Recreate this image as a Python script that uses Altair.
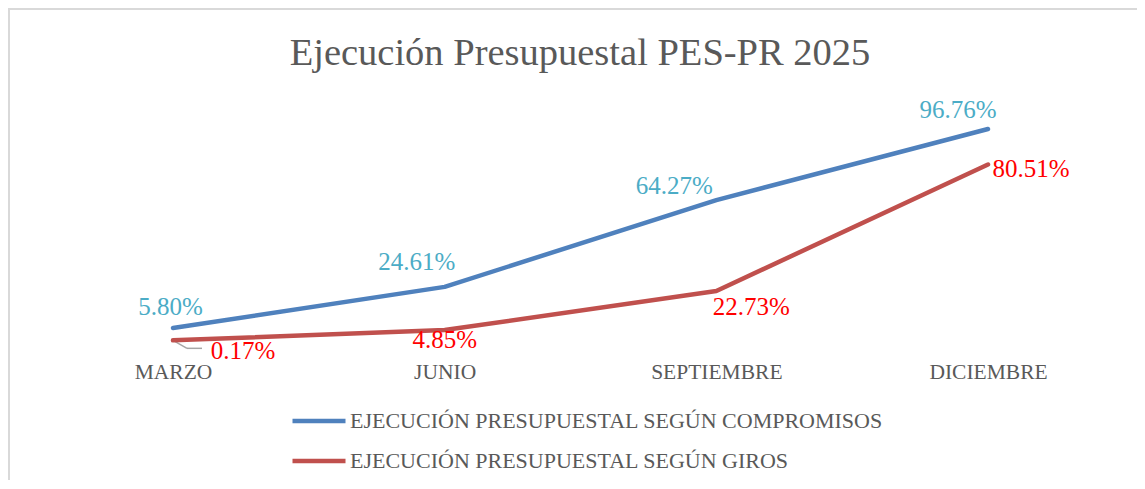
import altair as alt
import pandas as pd

TITLE = "Ejecución Presupuestal PES-PR 2025"
MONTHS = ["MARZO", "JUNIO", "SEPTIEMBRE", "DICIEMBRE"]
SERIES = [
    "EJECUCIÓN PRESUPUESTAL SEGÚN COMPROMISOS",
    "EJECUCIÓN PRESUPUESTAL SEGÚN GIROS",
]
COMPROMISOS = [5.80, 24.61, 64.27, 96.76]
GIROS = [0.17, 4.85, 22.73, 80.51]

rows = []
for s, vals in zip(SERIES, [COMPROMISOS, GIROS]):
    for m, v in zip(MONTHS, vals):
        rows.append({"mes": m, "serie": s, "valor": v, "etiqueta": f"{v:.2f}%"})
df = pd.DataFrame(rows)

# ---- styling ----
W, H = 1129, 472
FONT = "Liberation Serif"
GRAY = "#595959"
LINE_COLORS = ["#4F81BD", "#C0504D"]
LABEL_COLORS = ["#4BACC6", "#FF0000"]
# (series index, month index) -> (dx, dy) for data labels
LABEL_OFFSETS = {
    (0, 0): (-2.5, -21.5), (0, 1): (-28, -25), (0, 2): (-42, -14), (0, 3): (-30, -18.5),
    (1, 0): (70, 11), (1, 1): (0, 10), (1, 2): (35, 16), (1, 3): (43, 4),
}
YDOM = [-62.75 + (470 - H) / 2.188 * 0 - (H - 470) / 2.188, 152.06]

x = alt.X(
    "mes:N",
    sort=MONTHS,
    scale=alt.Scale(type="point", range=[165, 980], padding=0),
    axis=alt.Axis(
        title=None, domain=False, ticks=False, tickSize=0, grid=False,
        labelPadding=0, labelBaseline="middle", labelAngle=0, offset=364 - H,
        labelFont=FONT, labelFontSize=21.5, labelColor=GRAY,
    ),
)
y = alt.Y("valor:Q", scale=alt.Scale(domain=YDOM, nice=False, zero=False), axis=None)

base = alt.Chart(df)

border = alt.Chart(pd.DataFrame({"k": [0]})).mark_rect(
    fill=None, stroke="#D9D9D9", strokeWidth=2
).encode(x=alt.value(1), x2=alt.value(W + 30), y=alt.value(1), y2=alt.value(H + 30))

lines = base.mark_line(strokeWidth=4.5, strokeCap="round", strokeJoin="round").encode(
    x=x,
    y=y,
    color=alt.Color(
        "serie:N",
        sort=SERIES,
        scale=alt.Scale(domain=SERIES, range=LINE_COLORS),
        legend=alt.Legend(
            title=None, orient="none", legendX=282, legendY=384, direction="vertical",
            symbolType="stroke", symbolSize=2809, symbolStrokeWidth=4.5,
            labelFont=FONT, labelFontSize=22, labelColor=GRAY, labelOffset=2,
            labelLimit=0, rowPadding=-9,
        ),
    ),
)

# leader line of the first "giros" label
lead_pt = base.transform_filter((alt.datum.serie == SERIES[1]) & (alt.datum.mes == MONTHS[0]))
leader1 = lead_pt.mark_rule(color="#A6A6A6", strokeWidth=1.5, x2Offset=14, y2Offset=8).encode(
    x=x, y=y, x2=alt.X2("mes:N"), y2=alt.Y2("valor:Q")
)
leader2 = lead_pt.mark_rule(
    color="#A6A6A6", strokeWidth=1.5, xOffset=14, yOffset=8, x2Offset=29, y2Offset=8
).encode(x=x, y=y, x2=alt.X2("mes:N"), y2=alt.Y2("valor:Q"))

labels = []
for si, s in enumerate(SERIES):
    for mi, m in enumerate(MONTHS):
        dx, dy = LABEL_OFFSETS[(si, mi)]
        labels.append(
            base.transform_filter((alt.datum.serie == s) & (alt.datum.mes == m))
            .mark_text(font=FONT, fontSize=25, color=LABEL_COLORS[si], dx=dx, dy=dy,
                       align="center", baseline="middle")
            .encode(x=x, y=y, text="etiqueta:N")
        )

title = alt.Chart(pd.DataFrame({"t": [TITLE]})).mark_text(
    font=FONT, fontSize=38.5, color=GRAY, align="center", baseline="alphabetic"
).encode(text="t:N", x=alt.value(572), y=alt.value(57))

chart = (
    alt.layer(border, leader1, leader2, lines, *labels, title)
    .properties(width=W, height=H, autosize=alt.AutoSizeParams(type="none"), padding=0)
    .configure_view(stroke=None)
)

chart.save("out.html", embed_options={"renderer": "svg", "actions": False})
